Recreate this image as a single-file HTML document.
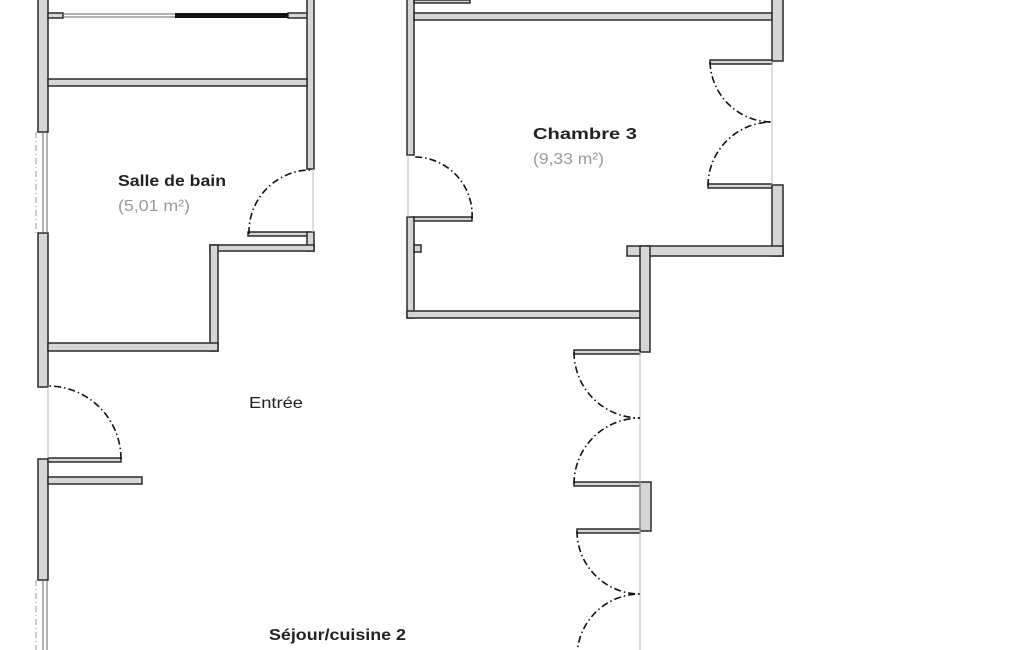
<!DOCTYPE html>
<html><head><meta charset="utf-8"><style>
html,body{margin:0;padding:0;background:#fff;}
svg{display:block;}
text{font-family:"Liberation Sans",sans-serif;}
</style></head><body>
<svg width="1025" height="650" viewBox="0 0 1025 650" xmlns="http://www.w3.org/2000/svg">
<g fill="#d6d6d6" stroke="#2a2a2a" stroke-width="1.5">
<rect x="38" y="-5" width="10" height="137"/>
<rect x="38" y="233" width="10" height="154"/>
<rect x="38" y="459" width="10" height="121"/>
<rect x="48" y="13" width="15" height="5"/>
<rect x="288" y="13" width="20" height="5"/>
<rect x="307" y="-5" width="7" height="174"/>
<rect x="48" y="79" width="259" height="7"/>
<rect x="248" y="232" width="60" height="4"/>
<rect x="307" y="232" width="7" height="19"/>
<rect x="210" y="245" width="104" height="6"/>
<rect x="210" y="245" width="8" height="106"/>
<rect x="48" y="343" width="170" height="8"/>
<rect x="48" y="458" width="73" height="4"/>
<rect x="48" y="477" width="94" height="7"/>
<rect x="407" y="-5" width="7" height="160"/>
<rect x="414" y="0" width="56" height="3"/>
<rect x="414" y="13" width="358" height="7"/>
<rect x="407" y="217" width="7" height="101"/>
<rect x="414" y="217" width="58" height="4"/>
<rect x="414" y="245" width="7" height="7"/>
<rect x="407" y="311" width="233" height="7"/>
<rect x="772" y="-5" width="11" height="66"/>
<rect x="710" y="60" width="62" height="4"/>
<rect x="708" y="184" width="64" height="4"/>
<rect x="772" y="185" width="11" height="71"/>
<rect x="627" y="246" width="156" height="10"/>
<rect x="640" y="246" width="10" height="106"/>
<rect x="574" y="350" width="66" height="4"/>
<rect x="574" y="482" width="66" height="4"/>
<rect x="640" y="482" width="11" height="49"/>
<rect x="577" y="529" width="63" height="4"/>
</g>
<g fill="none" stroke="#666" stroke-width="1">
<line x1="43" y1="132" x2="43" y2="233"/><line x1="47" y1="132" x2="47" y2="233"/>
<line x1="43" y1="580" x2="43" y2="650"/><line x1="47" y1="580" x2="47" y2="650"/>
<line x1="63" y1="14" x2="175" y2="14"/><line x1="63" y1="17" x2="175" y2="17"/>
<line x1="640" y1="352" x2="640" y2="650" stroke="#bbb"/>
<line x1="772" y1="61" x2="772" y2="185" stroke="#bbb"/>
<line x1="313" y1="169" x2="313" y2="232" stroke="#bbb"/>
<line x1="408" y1="155" x2="408" y2="217" stroke="#bbb"/>
<line x1="48" y1="387" x2="48" y2="458" stroke="#bbb"/>
</g>
<rect x="175" y="13" width="113" height="5" fill="#111"/>
<g fill="none" stroke="#999" stroke-width="1" stroke-dasharray="6,3,1,3">
<line x1="36" y1="132" x2="36" y2="233"/><line x1="36" y1="580" x2="36" y2="650"/>
</g>
<g fill="none" stroke="#111" stroke-width="1.6" stroke-dasharray="7,3,1.5,3">
<path d="M249,234 A62,62 0 0 1 310,170"/>
<path d="M472,219 A58,58 0 0 0 414,157"/>
<path d="M710,62 A62,62 0 0 0 772,122"/>
<path d="M708,186 A64,64 0 0 1 772,122"/>
<path d="M121,459 A73,73 0 0 0 48,386"/>
<path d="M574,352 A66,66 0 0 0 640,418"/>
<path d="M574,484 A66,66 0 0 1 640,418"/>
<path d="M577,531 A63,63 0 0 0 640,594"/>
<path d="M577,657 A63,63 0 0 1 640,594"/>
</g>
<g font-size="16">
<text x="118" y="186" font-weight="bold" fill="#222" textLength="108" lengthAdjust="spacingAndGlyphs">Salle de bain</text>
<text x="118" y="211" fill="#999" textLength="72" lengthAdjust="spacingAndGlyphs">(5,01 m²)</text>
<text x="533" y="139" font-weight="bold" fill="#222" textLength="104" lengthAdjust="spacingAndGlyphs">Chambre 3</text>
<text x="533" y="164" fill="#999" textLength="71" lengthAdjust="spacingAndGlyphs">(9,33 m²)</text>
<text x="249" y="408" fill="#222" textLength="54" lengthAdjust="spacingAndGlyphs">Entrée</text>
<text x="269" y="640" font-weight="bold" fill="#222" textLength="137" lengthAdjust="spacingAndGlyphs">Séjour/cuisine 2</text>
</g>
</svg>
</body></html>
